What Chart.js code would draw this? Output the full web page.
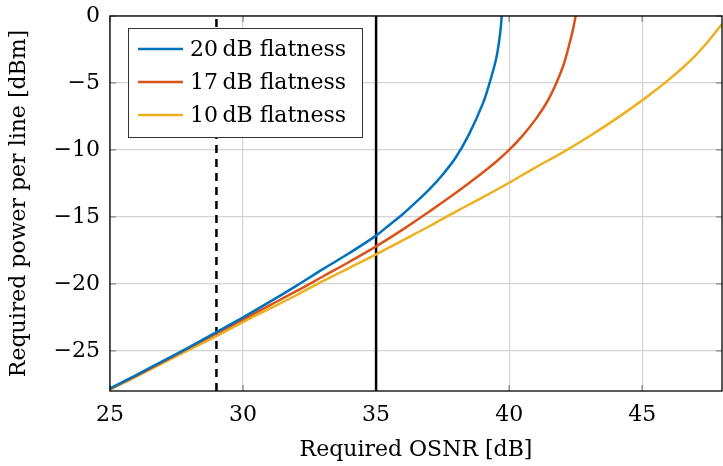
<!DOCTYPE html>
<html lang="en">
<head>
<meta charset="UTF-8">
<title>Required power per line</title>
<style>
  body { margin: 0; background: #fff; }
</style>
</head>
<body>
<canvas id="myChart" width="723" height="466"></canvas>
<script src="https://cdn.jsdelivr.net/npm/chart.js@4.4.1/dist/chart.umd.min.js"></script>
<script>
// values
const osnr20 = [25, 26, 27, 28, 29, 30, 31, 32, 33, 34, 35, 35.5, 36, 36.5, 37, 37.5, 38, 38.5, 39, 39.25, 39.5, 39.6, 39.68, 39.72]
const power20 = [-27.8, -26.8, -25.75, -24.7, -23.6, -22.5, -21.35, -20.15, -18.9, -17.7, -16.4, -15.6, -14.8, -13.9, -12.95, -11.85, -10.55, -8.8, -6.6, -5.1, -3.3, -2.2, -1.0, 0]

const osnr17 = [25, 26, 27, 28, 29, 30, 31, 32, 33, 34, 35, 36, 37, 38, 39, 39.5, 40, 40.5, 41, 41.5, 42, 42.25, 42.4, 42.5]
const power17 = [-27.85, -26.85, -25.8, -24.75, -23.7, -22.65, -21.6, -20.55, -19.45, -18.35, -17.2, -15.95, -14.6, -13.2, -11.7, -10.9, -10.0, -8.95, -7.7, -6.15, -3.9, -2.2, -1.0, 0]

const osnr10 = [25, 26, 27, 28, 29, 30, 31, 32, 33, 34, 35, 36, 37, 38, 39, 40, 41, 42, 43, 44, 45, 45.5, 46, 46.5, 47, 47.5, 48]
const power10 = [-27.9, -26.9, -25.9, -24.9, -23.9, -22.85, -21.85, -20.85, -19.8, -18.8, -17.8, -16.75, -15.7, -14.6, -13.55, -12.45, -11.3, -10.2, -9.0, -7.7, -6.3, -5.55, -4.75, -3.9, -2.95, -1.85, -0.6]

const seriesLabels = ['20\u2009dB flatness', '17\u2009dB flatness', '10\u2009dB flatness']
const dashedOsnr = 29
const solidOsnr = 35

const xTicks = [25, 30, 35, 40, 45]
const yTicks = [0, -5, -10, -15, -20, -25]

const FONT = "'DejaVu Serif', 'Liberation Serif', serif"

function pts(xs, ys) {
    return xs.map((x, i) => ({ x: x, y: ys[i] }))
}

function minus(v) {
    return v < 0 ? '\u2212' + Math.abs(v) : String(v)
}

// small inward tick marks, drawn before the data like pgfplots does
const tickMarks = {
    id: 'tickMarks',
    beforeDatasetsDraw(chart) {
        const ctx = chart.ctx
        const a = chart.chartArea
        const sx = chart.scales.x, sy = chart.scales.y
        ctx.save()
        ctx.strokeStyle = '#888'
        ctx.lineWidth = 1.3
        ctx.beginPath()
        xTicks.forEach(v => {
            const px = sx.getPixelForValue(v)
            ctx.moveTo(px, a.bottom); ctx.lineTo(px, a.bottom - 6)
            ctx.moveTo(px, a.top); ctx.lineTo(px, a.top + 6)
        })
        yTicks.forEach(v => {
            const py = sy.getPixelForValue(v)
            ctx.moveTo(a.left, py); ctx.lineTo(a.left + 6, py)
            ctx.moveTo(a.right, py); ctx.lineTo(a.right - 6, py)
        })
        ctx.stroke()
        ctx.restore()
    }
}

// box round the plot + legend inside it
const frameAndLegend = {
    id: 'frameAndLegend',
    afterDraw(chart) {
        const ctx = chart.ctx
        const a = chart.chartArea
        ctx.save()
        ctx.strokeStyle = '#000'
        ctx.lineWidth = 1.3
        ctx.strokeRect(a.left, a.top, a.right - a.left, a.bottom - a.top)

        const x0 = a.left + 18, y0 = a.top + 12
        ctx.fillStyle = '#fff'
        ctx.fillRect(x0, y0, 234, 109)
        ctx.strokeStyle = '#333'
        ctx.lineWidth = 1
        ctx.strokeRect(x0 + 0.5, y0 + 0.5, 234, 109)

        ctx.font = '22px ' + FONT
        ctx.textBaseline = 'middle'
        const rows = chart.data.datasets.filter(d => d.inLegend)
        rows.forEach((d, i) => {
            const yy = y0 + 21 + i * 33
            ctx.strokeStyle = d.borderColor
            ctx.lineWidth = 2.5
            ctx.beginPath()
            ctx.moveTo(x0 + 10, yy)
            ctx.lineTo(x0 + 55, yy)
            ctx.stroke()
            ctx.fillStyle = '#000'
            ctx.fillText(d.label, x0 + 62, yy + 1)
        })
        ctx.restore()
    }
}

const ctx = document.querySelector('#myChart').getContext('2d')
const chart = new Chart(ctx, {
    type: 'line',
    data: {
        datasets: [
            { label: seriesLabels[0], data: pts(osnr20, power20), borderColor: '#0072BD', inLegend: true },
            { label: seriesLabels[1], data: pts(osnr17, power17), borderColor: '#D95319', inLegend: true },
            { label: seriesLabels[2], data: pts(osnr10, power10), borderColor: '#EDB120', inLegend: true },
            { label: 'dashed', data: [{ x: dashedOsnr, y: -28 }, { x: dashedOsnr, y: 0 }], borderColor: '#000', borderDash: [8, 6], borderWidth: 2.5, tension: 0 },
            { label: 'solid', data: [{ x: solidOsnr, y: -28 }, { x: solidOsnr, y: 0 }], borderColor: '#000', borderWidth: 2.5, tension: 0 }
        ]
    },
    options: {
        responsive: false,
        animation: false,
        layout: { padding: 0 },
        elements: {
            point: { radius: 0 },
            line: { borderWidth: 2.5, tension: 0.35 }
        },
        plugins: {
            legend: { display: false },
            tooltip: { enabled: false }
        },
        scales: {
            x: {
                type: 'linear',
                min: 25,
                max: 48,
                afterBuildTicks: s => { s.ticks = xTicks.map(v => ({ value: v })) },
                afterFit: s => { s.height = 75; s.paddingRight = 1 },
                grid: { color: '#d4d4d4', lineWidth: 1.2, drawTicks: false },
                border: { display: false },
                ticks: { color: '#000', font: { family: FONT, size: 22 }, padding: 11, maxRotation: 0 },
                title: { display: true, text: 'Required OSNR [dB]', color: '#000', font: { family: FONT, size: 22 }, padding: { top: 2, bottom: 3 } }
            },
            y: {
                type: 'linear',
                min: -28,
                max: 0,
                afterBuildTicks: s => { s.ticks = yTicks.map(v => ({ value: v })) },
                afterFit: s => { s.width = 110; s.paddingTop = 16; s.paddingBottom = 0 },
                grid: { color: '#d4d4d4', lineWidth: 1.2, drawTicks: false },
                border: { display: false },
                ticks: { color: '#000', font: { family: FONT, size: 22 }, padding: 10, callback: v => minus(v) },
                title: { display: true, text: 'Required power per line [dBm]', color: '#000', font: { family: FONT, size: 22 }, padding: { top: 6, bottom: 4 } }
            }
        }
    },
    plugins: [tickMarks, frameAndLegend]
})
</script>
</body>
</html>
